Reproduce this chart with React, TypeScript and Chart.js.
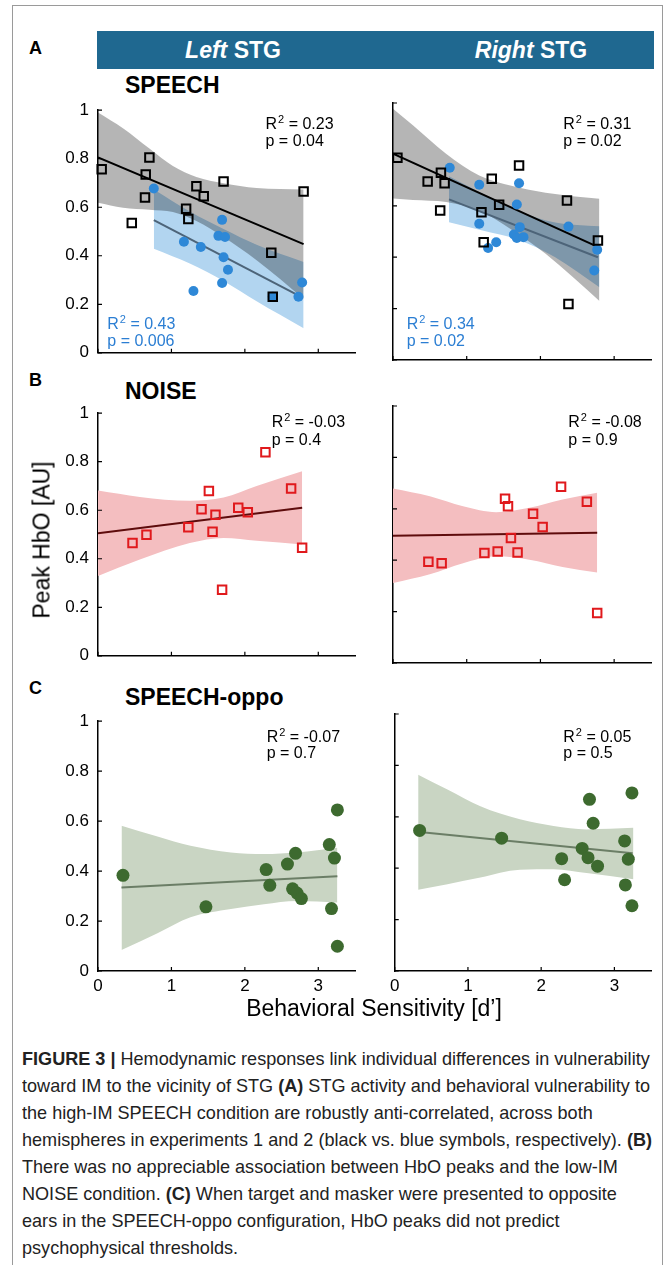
import React, { useEffect, useRef } from 'react';
import { Chart, registerables } from 'chart.js';

Chart.register(...registerables);

const FONT = "'Liberation Sans', Arial, Helvetica, sans-serif";

// ---------------- DATA ----------------
// axis ranges
const X_MIN = 0;
const X_MAX = 3.5;
const X_STEP = 1;
const Y_MIN = 0;
const Y_MAX = 1;
const Y_STEP = 0.2;

// Panel A – SPEECH, Left STG
const speechLeftExp1X = [0.05, 0.70, 0.65, 0.46, 0.64, 1.34, 1.44, 1.20, 1.23, 1.71, 2.36, 2.38, 2.80];
const speechLeftExp1Y = [0.757, 0.805, 0.735, 0.535, 0.640, 0.687, 0.645, 0.594, 0.552, 0.706, 0.412, 0.231, 0.665];
const speechLeftExp2X = [0.76, 1.69, 1.64, 1.73, 1.17, 1.40, 1.71, 1.77, 1.69, 1.30, 2.38, 2.78, 2.73];
const speechLeftExp2Y = [0.677, 0.548, 0.482, 0.477, 0.458, 0.436, 0.394, 0.342, 0.288, 0.255, 0.231, 0.290, 0.231];
const speechLeftFit1X = [0, 2.8];
const speechLeftFit1Y = [0.805, 0.448];
const speechLeftBand1X = [0, 0.34, 0.70, 1.02, 1.34, 1.71, 2.16, 2.8];
const speechLeftBand1Up = [0.991, 0.926, 0.842, 0.770, 0.725, 0.699, 0.679, 0.673];
const speechLeftBand1Lo = [0.619, 0.598, 0.590, 0.580, 0.543, 0.477, 0.381, 0.223];
const speechLeftFit2X = [0.76, 2.78];
const speechLeftFit2Y = [0.547, 0.228];
const speechLeftBand2X = [0.76, 1.25, 1.71, 2.16, 2.8];
const speechLeftBand2Up = [0.673, 0.582, 0.510, 0.445, 0.374];
const speechLeftBand2Lo = [0.429, 0.368, 0.296, 0.212, 0.101];

// Panel A – SPEECH, Right STG
const speechRightExp1X = [0.06, 0.65, 0.47, 0.70, 0.64, 1.34, 1.71, 1.44, 1.20, 1.23, 2.36, 2.78, 2.38];
const speechRightExp1Y = [0.787, 0.729, 0.695, 0.688, 0.582, 0.705, 0.757, 0.604, 0.575, 0.458, 0.621, 0.465, 0.218];
const speechRightExp2X = [0.77, 1.17, 1.71, 1.68, 1.17, 1.72, 1.64, 1.68, 1.77, 1.40, 1.29, 2.38, 2.77, 2.73];
const speechRightExp2Y = [0.748, 0.682, 0.688, 0.605, 0.530, 0.517, 0.488, 0.475, 0.478, 0.458, 0.436, 0.519, 0.429, 0.348];
const speechRightFit1X = [0, 2.8];
const speechRightFit1Y = [0.803, 0.437];
const speechRightBand1X = [0, 0.27, 0.72, 1.17, 1.62, 2.07, 2.8];
const speechRightBand1Up = [0.978, 0.913, 0.803, 0.718, 0.677, 0.651, 0.627];
const speechRightBand1Lo = [0.628, 0.623, 0.615, 0.582, 0.505, 0.413, 0.230];
const speechRightFit2X = [0.76, 2.78];
const speechRightFit2Y = [0.625, 0.400];
const speechRightBand2X = [0.76, 1.2, 1.7, 2.2, 2.8];
const speechRightBand2Up = [0.715, 0.650, 0.580, 0.535, 0.520];
const speechRightBand2Lo = [0.536, 0.505, 0.468, 0.400, 0.283];

// Panel B – NOISE
const noiseLeftX = [0.47, 0.66, 1.23, 1.41, 1.51, 1.60, 1.56, 1.69, 1.91, 2.04, 2.28, 2.63, 2.78];
const noiseLeftY = [0.465, 0.499, 0.530, 0.604, 0.679, 0.581, 0.511, 0.272, 0.610, 0.592, 0.839, 0.690, 0.445];
const noiseLeftFitX = [0, 2.78];
const noiseLeftFitY = [0.505, 0.610];
const noiseLeftBandX = [0, 0.57, 1.25, 1.71, 2.16, 2.78];
const noiseLeftBandUp = [0.681, 0.655, 0.639, 0.652, 0.700, 0.761];
const noiseLeftBandLo = [0.329, 0.397, 0.465, 0.486, 0.474, 0.459];

const noiseRightX = [0.48, 0.66, 1.24, 1.42, 1.52, 1.56, 1.60, 1.69, 1.90, 2.03, 2.28, 2.63, 2.77];
const noiseRightY = [0.394, 0.388, 0.428, 0.434, 0.639, 0.610, 0.486, 0.430, 0.581, 0.529, 0.686, 0.627, 0.195];
const noiseRightFitX = [0, 2.77];
const noiseRightFitY = [0.495, 0.507];
const noiseRightBandX = [0, 0.50, 0.95, 1.40, 1.85, 2.30, 2.77];
const noiseRightBandUp = [0.679, 0.649, 0.610, 0.587, 0.604, 0.636, 0.662];
const noiseRightBandLo = [0.311, 0.345, 0.388, 0.415, 0.402, 0.374, 0.352];

// Panel C – SPEECH-oppo
const oppoLeftX = [0.34, 1.47, 2.29, 2.34, 2.58, 2.69, 2.65, 2.71, 2.77, 3.15, 3.22, 3.26, 3.18, 3.26];
const oppoLeftY = [0.383, 0.257, 0.406, 0.343, 0.428, 0.471, 0.329, 0.312, 0.290, 0.506, 0.452, 0.645, 0.250, 0.099];
const oppoLeftFitX = [0.32, 3.26];
const oppoLeftFitY = [0.334, 0.379];
const oppoLeftBandX = [0.32, 0.81, 1.26, 1.81, 2.26, 2.71, 3.26];
const oppoLeftBandUp = [0.581, 0.538, 0.501, 0.474, 0.468, 0.474, 0.493];
const oppoLeftBandLo = [0.084, 0.151, 0.215, 0.248, 0.267, 0.280, 0.274];

const oppoRightX = [0.34, 1.46, 2.28, 2.32, 2.56, 2.64, 2.77, 2.66, 2.71, 3.24, 3.14, 3.19, 3.15, 3.24];
const oppoRightY = [0.547, 0.517, 0.437, 0.355, 0.477, 0.441, 0.408, 0.668, 0.575, 0.693, 0.506, 0.435, 0.335, 0.254];
const oppoRightFitX = [0.34, 3.25];
const oppoRightFitY = [0.541, 0.458];
const oppoRightBandX = [0.32, 0.72, 1.17, 1.71, 2.17, 2.62, 3.26];
const oppoRightBandUp = [0.764, 0.706, 0.641, 0.590, 0.564, 0.551, 0.557];
const oppoRightBandLo = [0.316, 0.338, 0.364, 0.394, 0.396, 0.381, 0.357];

// statistics text
const statR = ['0.23', '0.43', '0.31', '0.34', '-0.03', '-0.08', '-0.07', '0.05'];
const statP = ['0.04', '0.006', '0.02', '0.02', '0.4', '0.9', '0.7', '0.5'];

const captionLines: (string | [string])[][] = [
  [['FIGURE 3 |'], ' Hemodynamic responses link individual differences in vulnerability'],
  ['toward IM to the vicinity of STG ', ['(A)'], ' STG activity and behavioral vulnerability to'],
  ['the high-IM SPEECH condition are robustly anti-correlated, across both'],
  ['hemispheres in experiments 1 and 2 (black vs. blue symbols, respectively). ', ['(B)']],
  ['There was no appreciable association between HbO peaks and the low-IM'],
  ['NOISE condition. ', ['(C)'], ' When target and masker were presented to opposite'],
  ['ears in the SPEECH-oppo configuration, HbO peaks did not predict'],
  ['psychophysical thresholds.'],
];

// ---------------- STYLES ----------------
const C_GRAY_BAND = 'rgba(0,0,0,0.29)';
const C_BLUE_BAND = '#b2d5f0';
const C_BLUE = '#2e88d7';
const C_BLUE_LINE = '#4d6479';
const C_BLUE_TEXT = '#2b7ed3';
const C_RED_BAND = '#f4bec0';
const C_RED = '#e0191c';
const C_RED_LINE = '#5e0c0c';
const C_GREEN_BAND = '#c9d5c3';
const C_GREEN = '#3d6a2f';
const C_GREEN_LINE = '#6b7e66';

const pts = (xs: number[], ys: number[]) => xs.map((x, i) => ({ x, y: ys[i] }));

function markers(xs: number[], ys: number[], kind: 'square' | 'circle', color: string, radius: number, order: number) {
  return {
    data: pts(xs, ys),
    showLine: false,
    order,
    clip: false,
    pointStyle: kind === 'square' ? 'rect' : 'circle',
    pointRadius: radius,
    pointHoverRadius: radius,
    pointBorderColor: color,
    pointBackgroundColor: kind === 'square' ? 'rgba(0,0,0,0)' : color,
    pointBorderWidth: kind === 'square' ? 2 : 0,
    borderColor: color,
    backgroundColor: color,
  };
}

function fitLine(xs: number[], ys: number[], color: string, order: number) {
  return {
    data: pts(xs, ys),
    showLine: true,
    fill: false,
    borderColor: color,
    borderWidth: 2,
    pointRadius: 0,
    tension: 0,
    order,
  };
}

function band(xs: number[], up: number[], lo: number[], color: string, order: number) {
  const common = {
    showLine: true,
    borderColor: 'rgba(0,0,0,0)',
    borderWidth: 0,
    pointRadius: 0,
    tension: 0.4,
    cubicInterpolationMode: 'monotone',
    order,
  };
  return [
    { ...common, data: pts(xs, up), fill: '+1', backgroundColor: color },
    { ...common, data: pts(xs, lo), fill: false, backgroundColor: color },
  ];
}

const innerTicks = {
  id: 'innerTicks',
  afterDatasetsDraw(chart: any) {
    const { ctx, chartArea: a, scales } = chart;
    ctx.save();
    ctx.strokeStyle = '#000';
    ctx.lineWidth = 1.2;
    ctx.beginPath();
    for (const t of scales.x.ticks) {
      const px = scales.x.getPixelForValue(t.value);
      ctx.moveTo(px, a.bottom);
      ctx.lineTo(px, a.bottom - 4);
    }
    for (const t of scales.y.ticks) {
      const py = scales.y.getPixelForValue(t.value);
      ctx.moveTo(a.left, py);
      ctx.lineTo(a.left + 4, py);
    }
    ctx.stroke();
    ctx.restore();
  },
};

type PanelProps = {
  areaLeft: number;
  areaTop: number;
  areaW: number;
  areaH: number;
  yLabels: boolean;
  xLabels: boolean;
  datasets: any[];
};

function Panel({ areaLeft, areaTop, areaW, areaH, yLabels, xLabels, datasets }: PanelProps) {
  const ref = useRef<HTMLCanvasElement>(null);
  const YW = yLabels ? 50 : 8;
  const PT = 12;
  const PR = 10;
  const XH = xLabels ? 32 : 12;
  const w = YW + areaW + PR;
  const h = PT + areaH + XH;
  useEffect(() => {
    if (!ref.current) return;
    const tickFont = { family: FONT, size: 17 };
    const chart = new Chart(ref.current, {
      type: 'line',
      data: { datasets },
      options: {
        responsive: false,
        maintainAspectRatio: false,
        animation: false,
        events: [],
        layout: { padding: { top: PT, right: PR, left: 0, bottom: 0 } },
        plugins: { legend: { display: false }, tooltip: { enabled: false }, title: { display: false } },
        scales: {
          x: {
            type: 'linear',
            min: X_MIN,
            max: X_MAX,
            grid: { display: false, drawTicks: false },
            border: { display: true, color: '#000', width: 1.5 },
            ticks: {
              display: xLabels,
              stepSize: X_STEP,
              includeBounds: false,
              padding: 5,
              color: '#000',
              font: tickFont,
              maxRotation: 0,
              autoSkip: false,
              callback: (v: any) => String(v),
            },
            afterFit: (s: any) => {
              s.height = XH;
            },
          },
          y: {
            type: 'linear',
            min: Y_MIN,
            max: Y_MAX,
            grid: { display: false, drawTicks: false },
            border: { display: true, color: '#000', width: 1.5 },
            ticks: {
              display: yLabels,
              stepSize: Y_STEP,
              padding: 9,
              color: '#000',
              font: tickFont,
              autoSkip: false,
              callback: (v: any) => String(v),
            },
            afterFit: (s: any) => {
              s.width = YW;
            },
          },
        },
      } as any,
      plugins: [innerTicks],
    } as any);
    return () => chart.destroy();
  }, []);
  return (
    <canvas
      ref={ref}
      width={w}
      height={h}
      style={{ position: 'absolute', left: areaLeft - YW, top: areaTop - PT, width: w, height: h }}
    />
  );
}

function Stat({ x, yR, yP, r, p, color }: { x: number; yR: number; yP: number; r: string; p: string; color: string }) {
  const base: React.CSSProperties = {
    position: 'absolute',
    left: x,
    font: `16px ${FONT}`,
    lineHeight: '17px',
    color,
    whiteSpace: 'nowrap',
  };
  return (
    <>
      <div style={{ ...base, top: yR - 8.3 }}>
        R<span style={{ fontSize: 11, position: 'relative', top: -6, marginLeft: 1 }}>2</span> = {r}
      </div>
      <div style={{ ...base, top: yP - 8.3 }}>p = {p}</div>
    </>
  );
}

const abs = (s: React.CSSProperties): React.CSSProperties => ({ position: 'absolute', whiteSpace: 'nowrap', ...s });

// layout of plot areas (pixels)
const LEFT_X = 98;
const RIGHT_X = 393;
const AREA_W_L = 257;
const AREA_W_R = 258;
const ROW_A = 103;
const ROW_B = 406;
const ROW_C = 714;
const AREA_H = 257;
const CAPTION_WIDTH = 630;

function Caption() {
  const boxRef = useRef<HTMLDivElement>(null);
  useEffect(() => {
    const box = boxRef.current;
    if (!box) return;
    const spans = Array.from(box.querySelectorAll('span.capline')) as HTMLElement[];
    const widest = spans.reduce((m, s) => Math.max(m, s.getBoundingClientRect().width), 0);
    if (widest > 0) {
      box.style.transform = `scaleX(${CAPTION_WIDTH / widest})`;
    }
  }, []);
  return (
    <div
      ref={boxRef}
      style={abs({ left: 22, top: 1045, font: `19px ${FONT}`, lineHeight: '27px', color: '#222', transformOrigin: 'left top' })}
    >
      {captionLines.map((line, i) => (
        <div key={i}>
          <span className="capline">
            {line.map((part, j) => (Array.isArray(part) ? <b key={j}>{part[0]}</b> : <span key={j}>{part}</span>))}
          </span>
        </div>
      ))}
    </div>
  );
}

export default function App() {
  const dsSpeechLeft = [
    markers(speechLeftExp1X, speechLeftExp1Y, 'square', '#000', 6, 0),
    markers(speechLeftExp2X, speechLeftExp2Y, 'circle', C_BLUE, 5, 1),
    fitLine(speechLeftFit1X, speechLeftFit1Y, '#000', 2),
    fitLine(speechLeftFit2X, speechLeftFit2Y, C_BLUE_LINE, 3),
    ...band(speechLeftBand1X, speechLeftBand1Up, speechLeftBand1Lo, C_GRAY_BAND, 8),
    ...band(speechLeftBand2X, speechLeftBand2Up, speechLeftBand2Lo, C_BLUE_BAND, 9),
  ];
  const dsSpeechRight = [
    markers(speechRightExp1X, speechRightExp1Y, 'square', '#000', 6, 0),
    markers(speechRightExp2X, speechRightExp2Y, 'circle', C_BLUE, 5, 1),
    fitLine(speechRightFit1X, speechRightFit1Y, '#000', 2),
    fitLine(speechRightFit2X, speechRightFit2Y, C_BLUE_LINE, 3),
    ...band(speechRightBand1X, speechRightBand1Up, speechRightBand1Lo, C_GRAY_BAND, 8),
    ...band(speechRightBand2X, speechRightBand2Up, speechRightBand2Lo, C_BLUE_BAND, 9),
  ];
  const dsNoiseLeft = [
    markers(noiseLeftX, noiseLeftY, 'square', C_RED, 6, 0),
    fitLine(noiseLeftFitX, noiseLeftFitY, C_RED_LINE, 2),
    ...band(noiseLeftBandX, noiseLeftBandUp, noiseLeftBandLo, C_RED_BAND, 8),
  ];
  const dsNoiseRight = [
    markers(noiseRightX, noiseRightY, 'square', C_RED, 6, 0),
    fitLine(noiseRightFitX, noiseRightFitY, C_RED_LINE, 2),
    ...band(noiseRightBandX, noiseRightBandUp, noiseRightBandLo, C_RED_BAND, 8),
  ];
  const dsOppoLeft = [
    markers(oppoLeftX, oppoLeftY, 'circle', C_GREEN, 6.5, 0),
    fitLine(oppoLeftFitX, oppoLeftFitY, C_GREEN_LINE, 2),
    ...band(oppoLeftBandX, oppoLeftBandUp, oppoLeftBandLo, C_GREEN_BAND, 8),
  ];
  const dsOppoRight = [
    markers(oppoRightX, oppoRightY, 'circle', C_GREEN, 6.5, 0),
    fitLine(oppoRightFitX, oppoRightFitY, C_GREEN_LINE, 2),
    ...band(oppoRightBandX, oppoRightBandUp, oppoRightBandLo, C_GREEN_BAND, 8),
  ];

  const titleStyle = (top: number): React.CSSProperties =>
    abs({ left: 125, top, font: `bold 23px ${FONT}`, lineHeight: '23px', color: '#000' });
  const letterStyle = (cy: number): React.CSSProperties =>
    abs({ left: 29, top: cy - 10, font: `bold 18px ${FONT}`, lineHeight: '20px', color: '#000' });

  return (
    <div style={{ position: 'absolute', left: 0, top: 0, width: 669, height: 1265, background: '#fff', overflow: 'hidden', fontFamily: FONT }}>
      {/* figure frame */}
      <div style={abs({ left: 12, top: 5, width: 649, height: 1275, border: '1px solid #9a9a9a' })} />

      {/* header banner */}
      <div style={abs({ left: 97, top: 31, width: 557, height: 38, background: '#1f6890' })} />
      <div style={abs({ left: 233, top: 50, transform: 'translate(-50%,-50%)', font: `bold 23px ${FONT}`, color: '#fff' })}>
        <i>Left</i> STG
      </div>
      <div style={abs({ left: 531, top: 50, transform: 'translate(-50%,-50%)', font: `bold 23px ${FONT}`, color: '#fff' })}>
        <i>Right</i> STG
      </div>

      {/* panel letters & titles */}
      <div style={letterStyle(48)}>A</div>
      <div style={letterStyle(380)}>B</div>
      <div style={letterStyle(688)}>C</div>
      <div style={titleStyle(73.5)}>SPEECH</div>
      <div style={titleStyle(380)}>NOISE</div>
      <div style={titleStyle(685.5)}>SPEECH-oppo</div>

      {/* charts */}
      <Panel areaLeft={LEFT_X} areaTop={ROW_A} areaW={AREA_W_L} areaH={AREA_H} yLabels xLabels={false} datasets={dsSpeechLeft} />
      <Panel areaLeft={RIGHT_X} areaTop={ROW_A} areaW={AREA_W_R} areaH={AREA_H} yLabels={false} xLabels={false} datasets={dsSpeechRight} />
      <Panel areaLeft={LEFT_X} areaTop={ROW_B} areaW={AREA_W_L} areaH={AREA_H} yLabels xLabels={false} datasets={dsNoiseLeft} />
      <Panel areaLeft={RIGHT_X} areaTop={ROW_B} areaW={AREA_W_R} areaH={AREA_H} yLabels={false} xLabels={false} datasets={dsNoiseRight} />
      <Panel areaLeft={LEFT_X} areaTop={ROW_C} areaW={AREA_W_L} areaH={AREA_H} yLabels xLabels datasets={dsOppoLeft} />
      <Panel areaLeft={RIGHT_X} areaTop={ROW_C} areaW={AREA_W_R} areaH={AREA_H} yLabels={false} xLabels datasets={dsOppoRight} />

      {/* statistics */}
      <Stat x={265.5} yR={123.3} yP={140.7} r={statR[0]} p={statP[0]} color="#000" />
      <Stat x={107.3} yR={323.3} yP={340} r={statR[1]} p={statP[1]} color={C_BLUE_TEXT} />
      <Stat x={563.3} yR={123.3} yP={140.7} r={statR[2]} p={statP[2]} color="#000" />
      <Stat x={406.7} yR={323.3} yP={340} r={statR[3]} p={statP[3]} color={C_BLUE_TEXT} />
      <Stat x={271.7} yR={421.7} yP={439} r={statR[4]} p={statP[4]} color="#000" />
      <Stat x={568.3} yR={421.7} yP={439} r={statR[5]} p={statP[5]} color="#000" />
      <Stat x={266.7} yR={736} yP={752} r={statR[6]} p={statP[6]} color="#000" />
      <Stat x={563.3} yR={736} yP={752} r={statR[7]} p={statP[7]} color="#000" />

      {/* axis titles */}
      <div style={abs({ left: 42, top: 540, transform: 'translate(-50%,-50%) rotate(-90deg)', font: `23px ${FONT}`, color: '#000' })}>
        Peak HbO [AU]
      </div>
      <div style={abs({ left: 374, top: 1008, transform: 'translate(-50%,-50%)', font: `23px ${FONT}`, color: '#000' })}>
        Behavioral Sensitivity [d’]
      </div>

      {/* caption */}
      <Caption />
    </div>
  );
}
